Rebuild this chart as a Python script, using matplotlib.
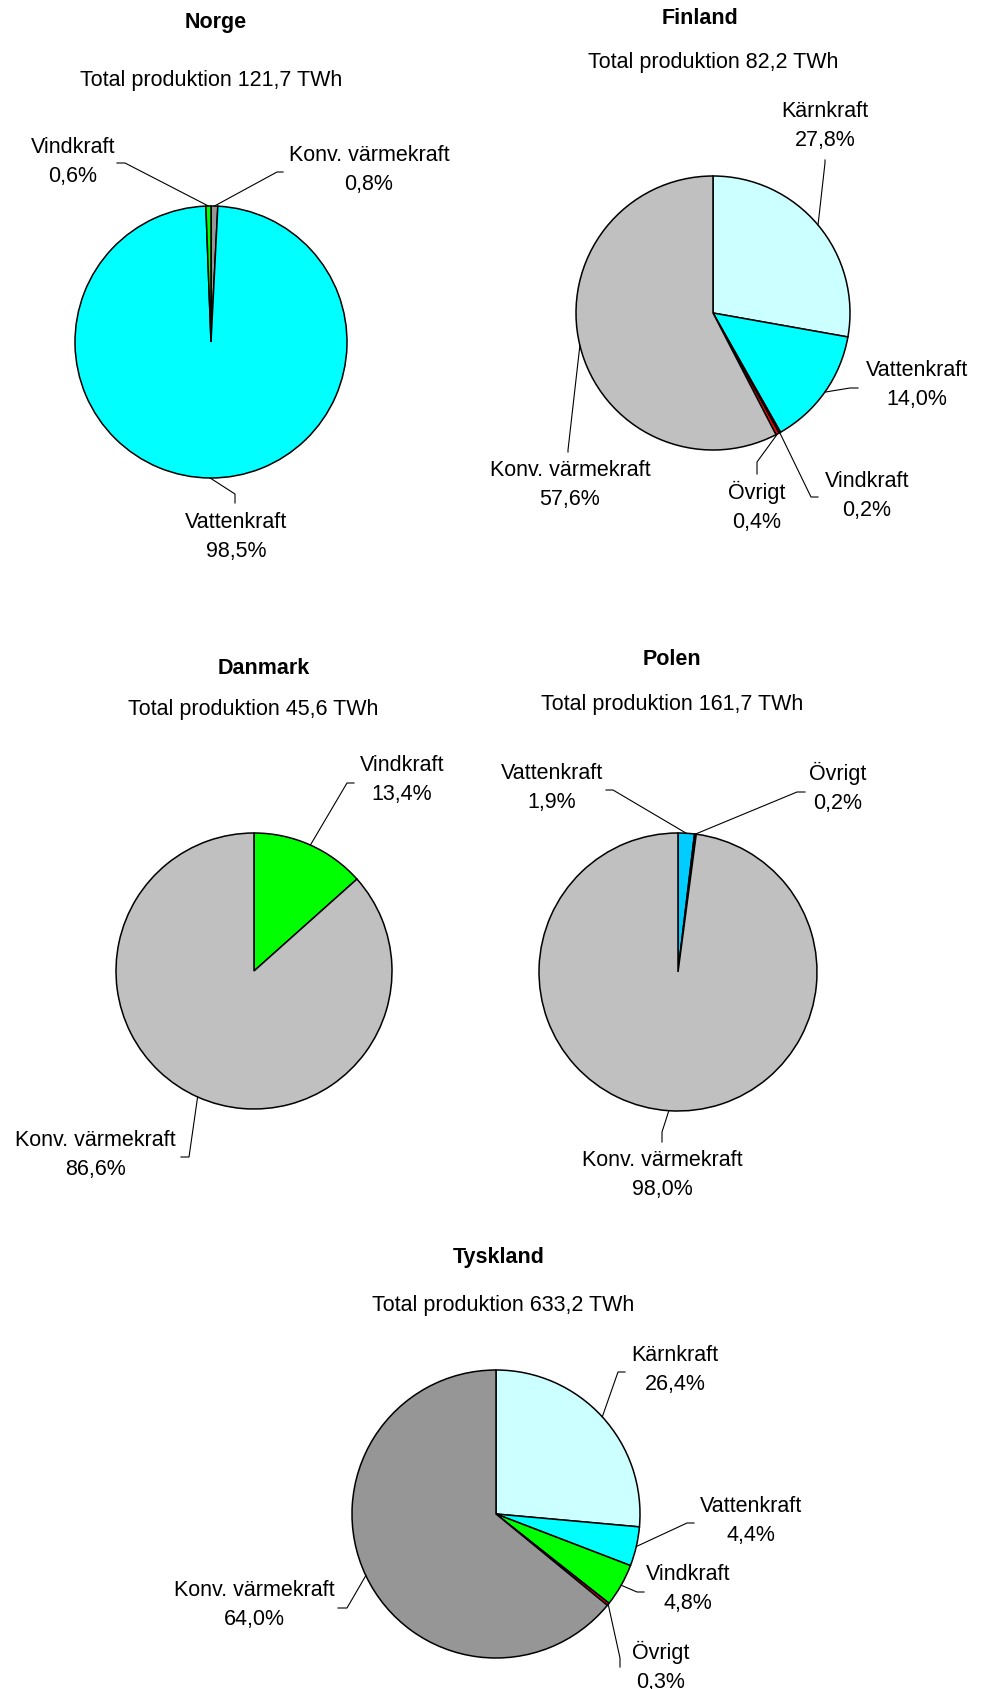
import matplotlib
matplotlib.use('Agg')
import matplotlib.pyplot as plt
import numpy as np

# figure size in pixels
W, H = 981, 1689

# ---- data ----
norge_labels = ['Konv. värmekraft', 'Vattenkraft', 'Vindkraft']
norge_values = [0.8, 98.5, 0.6]
norge_total = '121,7'

finland_labels = ['Kärnkraft', 'Vattenkraft', 'Vindkraft', 'Övrigt', 'Konv. värmekraft']
finland_values = [27.8, 14.0, 0.2, 0.4, 57.6]
finland_total = '82,2'

danmark_labels = ['Vindkraft', 'Konv. värmekraft']
danmark_values = [13.4, 86.6]
danmark_total = '45,6'

polen_labels = ['Vattenkraft', 'Övrigt', 'Konv. värmekraft']
polen_values = [1.9, 0.2, 98.0]
polen_total = '161,7'

tyskland_labels = ['Kärnkraft', 'Vattenkraft', 'Vindkraft', 'Övrigt', 'Konv. värmekraft']
tyskland_values = [26.4, 4.4, 4.8, 0.3, 64.0]
tyskland_total = '633,2'

# ---- colours ----
colors = {'Kärnkraft': '#CCFFFF', 'Vattenkraft': '#00FFFF', 'Vindkraft': '#00FF00',
          'Övrigt': '#FF0000', 'Konv. värmekraft': '#C0C0C0'}

plt.rcParams['font.family'] = ['Liberation Sans', 'DejaVu Sans']
FS = 15.5

fig = plt.figure(figsize=(W / 100, H / 100), dpi=100)
ax = fig.add_axes([0, 0, 1, 1])
ax.set_xlim(0, W)
ax.set_ylim(0, H)
ax.set_aspect('equal')
ax.axis('off')


def Y(y):
    return H - y


# layout: pie centre/radius, title pos, subtitle pos,
# and per label: text centre, elbow, tail (pixels, y from top)
countries = [
    dict(name='Norge', labels=norge_labels, values=norge_values, total=norge_total,
         center=(211, 342), r=136, title=(216, 22), sub=(211, 80),
         override={'Konv. värmekraft': '#969696'},
         lab=[((369, 170), (277, 172), (283, 172)),
              ((236, 537), (235, 494), (235, 503)),
              ((73, 162), (125, 163), (117, 163))]),
    dict(name='Finland', labels=finland_labels, values=finland_values, total=finland_total,
         center=(713, 313), r=137, title=(700, 18), sub=(713, 62), override={},
         lab=[((825, 126), (825, 163), (825, 160)),
              ((917, 385), (850, 388), (858, 388)),
              ((867, 496), (811, 497), (818, 497)),
              ((757, 507), (757, 462), (757, 474)),
              ((570, 485), (568, 450), (568, 452))]),
    dict(name='Danmark', labels=danmark_labels, values=danmark_values, total=danmark_total,
         center=(254, 971), r=138, title=(264, 668), sub=(253, 709), override={},
         lab=[((402, 780), (347, 783), (354, 783)),
              ((95, 1155), (189, 1157), (181, 1157))]),
    dict(name='Polen', labels=polen_labels, values=polen_values, total=polen_total,
         center=(678, 972), r=139, title=(672, 659), sub=(672, 704), override={'Vattenkraft': '#00CCFF'},
         lab=[((552, 788), (613, 790), (606, 790)),
              ((838, 788), (797, 792), (805, 792)),
              ((662, 1175), (662, 1132), (662, 1142))]),
    dict(name='Tyskland', labels=tyskland_labels, values=tyskland_values, total=tyskland_total,
         center=(496, 1514), r=144, title=(499, 1258), sub=(503, 1305),
         override={'Konv. värmekraft': '#969696'},
         lab=[((675, 1370), (618, 1372), (625, 1372)),
              ((751, 1521), (687, 1523), (694, 1523)),
              ((688, 1589), (637, 1592), (644, 1592)),
              ((661, 1667), (620, 1658), (620, 1667)),
              ((254, 1605), (347, 1608), (338, 1608))]),
]

for c in countries:
    cx, cy = c['center']
    r = c['r']
    cols = [c['override'].get(l, colors[l]) for l in c['labels']]
    ax.pie(c['values'], colors=cols, startangle=90, counterclock=False,
           center=(cx, Y(cy)), radius=r, frame=True,
           wedgeprops=dict(edgecolor='black', linewidth=1.1))
    ax.text(c['title'][0], Y(c['title'][1]), c['name'], ha='center', va='center',
            fontsize=FS, fontweight='bold')
    ax.text(c['sub'][0], Y(c['sub'][1]), 'Total produktion %s TWh' % c['total'],
            ha='center', va='center', fontsize=FS)

    vals = np.array(c['values'])
    cum = np.cumsum(vals) - vals / 2
    phi = np.deg2rad(360 * cum / vals.sum())
    for i, (lbl, v) in enumerate(zip(c['labels'], c['values'])):
        (tx, ty), (ex, ey), (kx, ky) = c['lab'][i]
        sx = cx + r * np.sin(phi[i])
        sy = cy - r * np.cos(phi[i])
        ax.plot([sx, ex, kx], [Y(sy), Y(ey), Y(ky)], color='black', lw=0.8)
        pct = ('%.1f%%' % v).replace('.', ',')
        ax.text(tx, Y(ty), lbl + '\n' + pct, ha='center', va='center',
                fontsize=FS, linespacing=1.45)

ax.set_xlim(0, W)
ax.set_ylim(0, H)
ax.axis('off')

fig.savefig('out.png', dpi=100, facecolor='white')
